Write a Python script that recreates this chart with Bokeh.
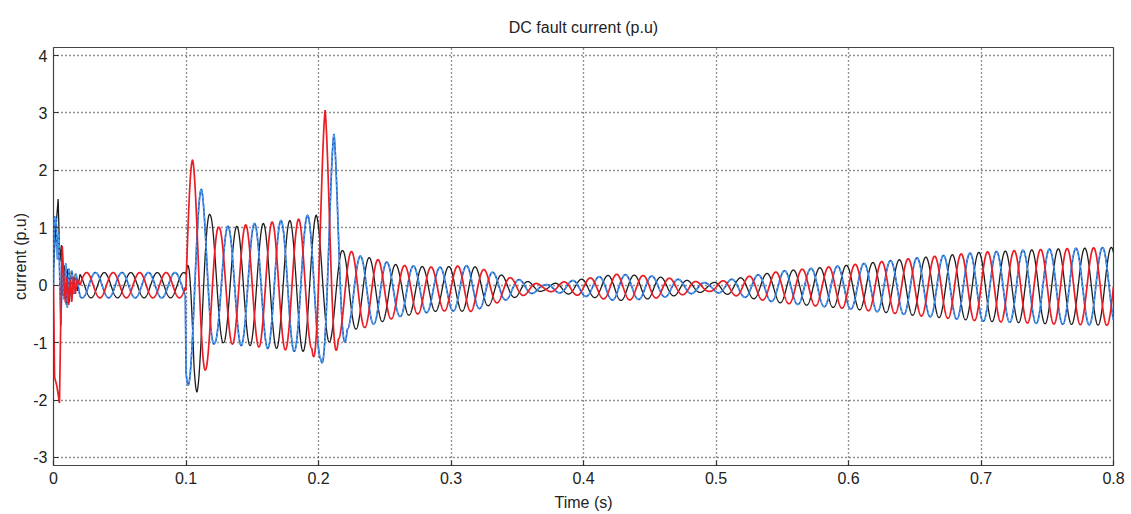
import numpy as np
from bokeh.plotting import figure
from bokeh.models import Range1d, FixedTicker, NumeralTickFormatter
from bokeh.embed import file_html
from bokeh.resources import INLINE

# ---------------- data ----------------
title_text = "DC fault current (p.u)"
x_label = "Time (s)"
y_label = "current (p.u)"
x_ticks = [0.0, 0.1, 0.2, 0.3, 0.4, 0.5, 0.6, 0.7, 0.8]
y_ticks = [-3, -2, -1, 0, 1, 2, 3, 4]

freq_hz = 50.0
red_peak_ref = 0.005          # time of a red-phase crest (mod one period)
phase_lags = {"red": 0.0, "blue": 1.0 / 150.0, "black": 2.0 / 150.0}

# start-up transient (0 - 0.02 s), read point by point
red_tr_t = [0.0, 0.0008, 0.0025, 0.0045, 0.0055, 0.0066, 0.0078, 0.009, 0.0102, 0.0114, 0.0126, 0.0138, 0.015, 0.0165, 0.018]
red_tr_v = [0.0, -1.6, -1.75, -2.05, -0.6, 0.7, 0.1, -0.3, 0.15, -0.35, 0.1, -0.3, 0.15, -0.15, 0.1]
blue_tr_t = [0.0, 0.0005, 0.002, 0.003, 0.004, 0.0055, 0.0068, 0.008, 0.0092, 0.0104, 0.0116, 0.0128, 0.014, 0.0155, 0.017]
blue_tr_v = [0.0, 1.2, 1.15, 0.45, 0.9, -0.7, 0.4, -0.25, 0.4, -0.4, 0.3, -0.2, 0.25, -0.15, 0.2]
black_tr_t = [0.0, 0.0015, 0.0035, 0.0048, 0.006, 0.0072, 0.0084, 0.0096, 0.0108, 0.012, 0.0135, 0.015, 0.0165, 0.018]
black_tr_v = [0.3, 0.9, 1.5, 0.4, 0.7, -0.2, 0.35, -0.35, 0.3, -0.3, 0.25, -0.15, 0.2, -0.1]

# amplitude read at the crests / troughs of each phase (0.02 - 0.23 s)
red_env_t = [0.02, 0.0995, 0.1, 0.105, 0.115, 0.125, 0.145, 0.165, 0.185, 0.195, 0.205, 0.215, 0.225]
red_env_a = [0.22, 0.22, 2.18, 2.18, 1.46, 1.0, 1.05, 1.1, 1.15, 1.1, 3.05, 0.82, 0.7]
blue_env_t = [0.02, 0.0995, 0.1, 0.1017, 0.1117, 0.1217, 0.1417, 0.1617, 0.1817, 0.2017, 0.2117, 0.2217, 0.2317]
blue_env_a = [0.22, 0.22, 1.74, 1.74, 1.67, 1.0, 1.05, 1.1, 1.15, 1.28, 2.72, 0.65, 0.62]
black_env_t = [0.02, 0.1, 0.106, 0.1083, 0.1183, 0.1283, 0.1483, 0.1683, 0.1883, 0.1983, 0.2083, 0.2183, 0.2283]
black_env_a = [0.22, 0.22, 1.86, 1.86, 1.22, 1.0, 1.05, 1.1, 1.15, 1.22, 0.95, 0.72, 0.65]

# post-fault amplitude common to the three phases
late_env_t = [0.245, 0.26, 0.29, 0.315, 0.345, 0.37, 0.40, 0.425, 0.45, 0.475, 0.495, 0.525, 0.55, 0.575, 0.6, 0.65, 0.7, 0.75, 0.8]
late_env_a = [0.55, 0.45, 0.38, 0.4, 0.18, 0.05, 0.15, 0.23, 0.2, 0.13, 0.07, 0.19, 0.28, 0.33, 0.38, 0.5, 0.6, 0.65, 0.68]

# dc offset of the oscillation centre
offset_t = [0.0, 0.205, 0.215, 0.26, 0.3, 0.4, 0.6, 0.8]
offset_v = [0.0, 0.0, -0.12, -0.1, -0.06, -0.04, -0.03, -0.02]

# ---------------- build the phase currents ----------------
t = np.linspace(0.0, 0.8, 9601)
offset = np.interp(t, offset_t, offset_v)


def phase_current(tr_t, tr_v, env_t, env_a, lag):
    et = np.array(env_t + late_env_t)
    ea = np.array(env_a + late_env_a)
    env = np.interp(t, et, ea)
    wave = env * np.cos(2 * np.pi * freq_hz * (t - red_peak_ref - lag)) + offset
    # start-up transient joined onto the oscillation at 0.02 s
    t_join = 0.02
    v_join = np.interp(t_join, et, ea) * np.cos(2 * np.pi * freq_hz * (t_join - red_peak_ref - lag))
    early = np.interp(t, list(tr_t) + [t_join], list(tr_v) + [v_join])
    return np.where(t < t_join, early, wave)


i_red = phase_current(red_tr_t, red_tr_v, red_env_t, red_env_a, phase_lags["red"])
i_blue = phase_current(blue_tr_t, blue_tr_v, blue_env_t, blue_env_a, phase_lags["blue"])
i_black = phase_current(black_tr_t, black_tr_v, black_env_t, black_env_a, phase_lags["black"])

# ---------------- figure ----------------
FONT = "Liberation Sans"
p = figure(width=1131, height=514, output_backend="svg", toolbar_location=None,
           x_range=Range1d(0.0, 0.8), y_range=Range1d(-3.14, 4.14),
           min_border_left=53, min_border_right=18, min_border_top=47, min_border_bottom=49,
           title=title_text)
p.background_fill_color = "white"
p.border_fill_color = "white"
p.outline_line_color = "#444444"
p.outline_line_width = 1.2

p.title.align = "center"
p.title.text_font = FONT
p.title.text_font_size = "16px"
p.title.text_font_style = "normal"
p.title.text_color = "#222222"
p.title.standoff = 23

for ax in (p.xaxis[0], p.yaxis[0]):
    ax.axis_line_color = None
    ax.major_tick_in = 5
    ax.major_tick_out = 0
    ax.minor_tick_line_color = None
    ax.major_tick_line_color = "#333333"
    ax.major_tick_line_width = 1.2
    ax.major_label_text_font = FONT
    ax.major_label_text_font_size = "16px"
    ax.major_label_text_color = "#222222"
    ax.axis_label_text_font = FONT
    ax.axis_label_text_font_size = "16px"
    ax.axis_label_text_font_style = "normal"
    ax.axis_label_text_color = "#222222"

p.xaxis[0].ticker = FixedTicker(ticks=x_ticks)
p.yaxis[0].ticker = FixedTicker(ticks=y_ticks)
p.xaxis[0].formatter = NumeralTickFormatter(format="0.[0]")
p.yaxis[0].formatter = NumeralTickFormatter(format="0")
p.xaxis[0].axis_label = x_label
p.yaxis[0].axis_label = y_label
p.xaxis[0].major_label_standoff = 6
p.yaxis[0].major_label_standoff = 6
p.xaxis[0].axis_label_standoff = 7
p.yaxis[0].axis_label_standoff = 1

p.xgrid.ticker = FixedTicker(ticks=x_ticks)
p.ygrid.ticker = FixedTicker(ticks=y_ticks)
for g in (p.xgrid[0], p.ygrid[0]):
    g.grid_line_color = "#222222"
    g.grid_line_dash = "1 3"
    g.grid_line_width = 1.3

p.line(t, i_black, line_color="#1c1c1c", line_width=1.3)
p.line(t, i_blue, line_color="#2456c8", line_width=1.7)
p.line(t, i_blue, line_color="#4aaae8", line_width=1.4, line_dash="3 2")
p.line(t, i_red, line_color="#ec1c24", line_width=1.7)

open("out.html", "w").write(file_html(p, INLINE))
